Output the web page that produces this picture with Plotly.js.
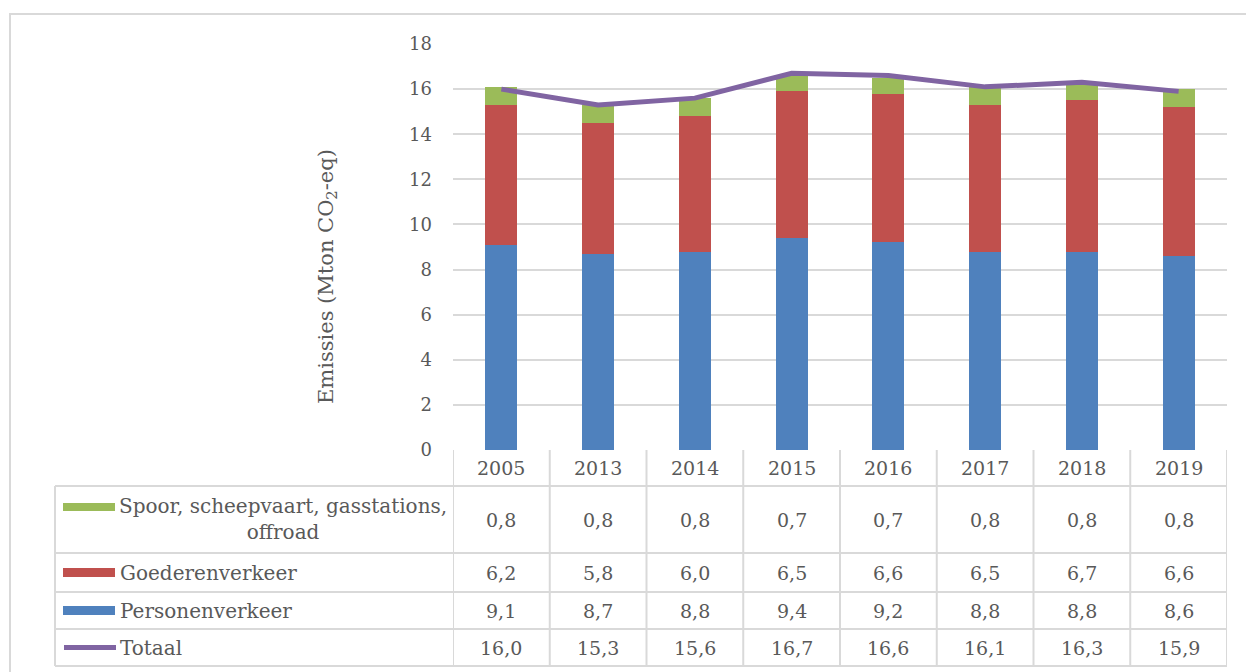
<!DOCTYPE html>
<html>
<head>
<meta charset="utf-8">
<script src="https://cdn.plot.ly/plotly-3.0.1.min.js"></script>
<style>html,body{margin:0;padding:0;background:#fff;}#chart{width:1246px;height:672px;}</style>
</head>
<body>
<div id="chart"></div>
<script>
// ---- data ----
const years = ["2005", "2013", "2014", "2015", "2016", "2017", "2018", "2019"];
const spoor = [0.8, 0.8, 0.8, 0.7, 0.7, 0.8, 0.8, 0.8];
const goederen = [6.2, 5.8, 6.0, 6.5, 6.6, 6.5, 6.7, 6.6];
const personen = [9.1, 8.7, 8.8, 9.4, 9.2, 8.8, 8.8, 8.6];
const totaal = [16.0, 15.3, 15.6, 16.7, 16.6, 16.1, 16.3, 15.9];
const seriesNames = ["Spoor, scheepvaart, gasstations, offroad", "Goederenverkeer", "Personenverkeer", "Totaal"];
const yTitle = "Emissies (Mton CO<sub>2</sub>-eq)";

// ---- style ----
const FONT = "DejaVu Serif";
const TXT = "#595959";
const GRID = "#d9d9d9";
const colors = {spoor: "#9bbb59", goederen: "#c0504d", personen: "#4f81bd", totaal: "#8064a2"};

const W = 1246, H = 672;
const PL = 453, PR = 1227, PT = 44, PB = 450;
const fx = p => (p - PL) / (PR - PL);
const fy = p => (PB - p) / (PB - PT);
// paper x of category i centre (axis range is [-0.5, n-0.5])
const cx = i => (i + 0.5) / years.length;

const fmt = v => v.toFixed(1).replace('.', ',');

const traces = [
  {type: "bar", x: years, y: personen, name: seriesNames[2], marker: {color: colors.personen}, hoverinfo: "skip"},
  {type: "bar", x: years, y: goederen, name: seriesNames[1], marker: {color: colors.goederen}, hoverinfo: "skip"},
  {type: "bar", x: years, y: spoor, name: seriesNames[0], marker: {color: colors.spoor}, hoverinfo: "skip"},
  {type: "scatter", mode: "lines", x: years, y: totaal, name: seriesNames[3], line: {color: colors.totaal, width: 5}, hoverinfo: "skip"}
];

// table geometry (pixels)
const rowLines = [486, 553, 592, 629, 666];
const headerY = 468;
const rowCenters = [519.5, 572.5, 610.5, 647.5];
const tableLeft = 55;

const shapes = [];
const annotations = [];

// outer chart border
shapes.push({type: "rect", xref: "paper", yref: "paper", x0: fx(10), x1: fx(1260), y0: fy(14), y1: fy(690),
  line: {color: GRID, width: 2}, fillcolor: "rgba(0,0,0,0)", layer: "below"});

// horizontal table lines
rowLines.forEach(p => shapes.push({type: "line", xref: "paper", yref: "paper", x0: fx(tableLeft), x1: 1, y0: fy(p), y1: fy(p), line: {color: GRID, width: 2}}));
// vertical lines between categories
for (let k = 0; k <= years.length; k++) {
  shapes.push({type: "line", xref: "x", yref: "paper", x0: k - 0.5, x1: k - 0.5, y0: fy(450), y1: fy(666), line: {color: GRID, width: 2}});
}
// left border of label column
shapes.push({type: "line", xref: "paper", yref: "paper", x0: fx(tableLeft), x1: fx(tableLeft), y0: fy(486), y1: fy(666), line: {color: GRID, width: 2}});

// header years
years.forEach((y, i) => annotations.push({xref: "paper", yref: "paper", x: cx(i), y: fy(headerY), text: y, showarrow: false,
  xanchor: "center", yanchor: "middle", font: {family: FONT, size: 19, color: TXT}}));

// value rows
const rowData = [spoor, goederen, personen, totaal];
rowData.forEach((arr, r) => {
  arr.forEach((v, i) => annotations.push({xref: "paper", yref: "paper", x: cx(i), y: fy(rowCenters[r]), text: fmt(v), showarrow: false,
    xanchor: "center", yanchor: "middle", font: {family: FONT, size: 19, color: TXT}}));
});

// row labels
annotations.push({xref: "paper", yref: "paper", x: fx(283), y: fy(519), text: "Spoor, scheepvaart, gasstations,<br>offroad", showarrow: false,
  xanchor: "center", yanchor: "middle", align: "center", font: {family: FONT, size: 20, color: TXT}});
[1, 2, 3].forEach(r => annotations.push({xref: "paper", yref: "paper", x: fx(118), y: fy(rowCenters[r]), text: seriesNames[r], showarrow: false,
  xanchor: "left", yanchor: "middle", font: {family: FONT, size: 20, color: TXT}}));

// legend keys
const keyX0 = fx(63), keyX1 = fx(115);
shapes.push({type: "rect", xref: "paper", yref: "paper", x0: keyX0, x1: keyX1, y0: fy(503), y1: fy(511), fillcolor: colors.spoor, line: {width: 0}});
shapes.push({type: "rect", xref: "paper", yref: "paper", x0: keyX0, x1: keyX1, y0: fy(568), y1: fy(577), fillcolor: colors.goederen, line: {width: 0}});
shapes.push({type: "rect", xref: "paper", yref: "paper", x0: keyX0, x1: keyX1, y0: fy(606), y1: fy(615), fillcolor: colors.personen, line: {width: 0}});
shapes.push({type: "line", xref: "paper", yref: "paper", x0: fx(64), x1: fx(116), y0: fy(647.5), y1: fy(647.5), line: {color: colors.totaal, width: 5}});

// y title
annotations.push({xref: "paper", yref: "paper", x: fx(327), y: fy(277), text: yTitle, showarrow: false, textangle: -90,
  xanchor: "center", yanchor: "middle", font: {family: FONT, size: 21, color: TXT}});

const layout = {
  width: W, height: H,
  margin: {l: PL, r: W - PR, t: PT, b: H - PB, pad: 0},
  paper_bgcolor: "#ffffff", plot_bgcolor: "#ffffff",
  barmode: "stack", bargap: 0.67,
  showlegend: false,
  xaxis: {type: "category", range: [-0.5, years.length - 0.5], showticklabels: false, showgrid: false, zeroline: false,
    showline: false, ticks: ""},
  yaxis: {range: [0, 18], dtick: 2, tick0: 0, showgrid: true, gridcolor: GRID, gridwidth: 2, zeroline: false, showline: false,
    ticks: "", ticklabelstandoff: 20, tickfont: {family: FONT, size: 18, color: TXT}},
  shapes: shapes,
  annotations: annotations,
  font: {family: FONT}
};

Plotly.newPlot("chart", traces, layout, {staticPlot: true, displayModeBar: false});
</script>
</body>
</html>
